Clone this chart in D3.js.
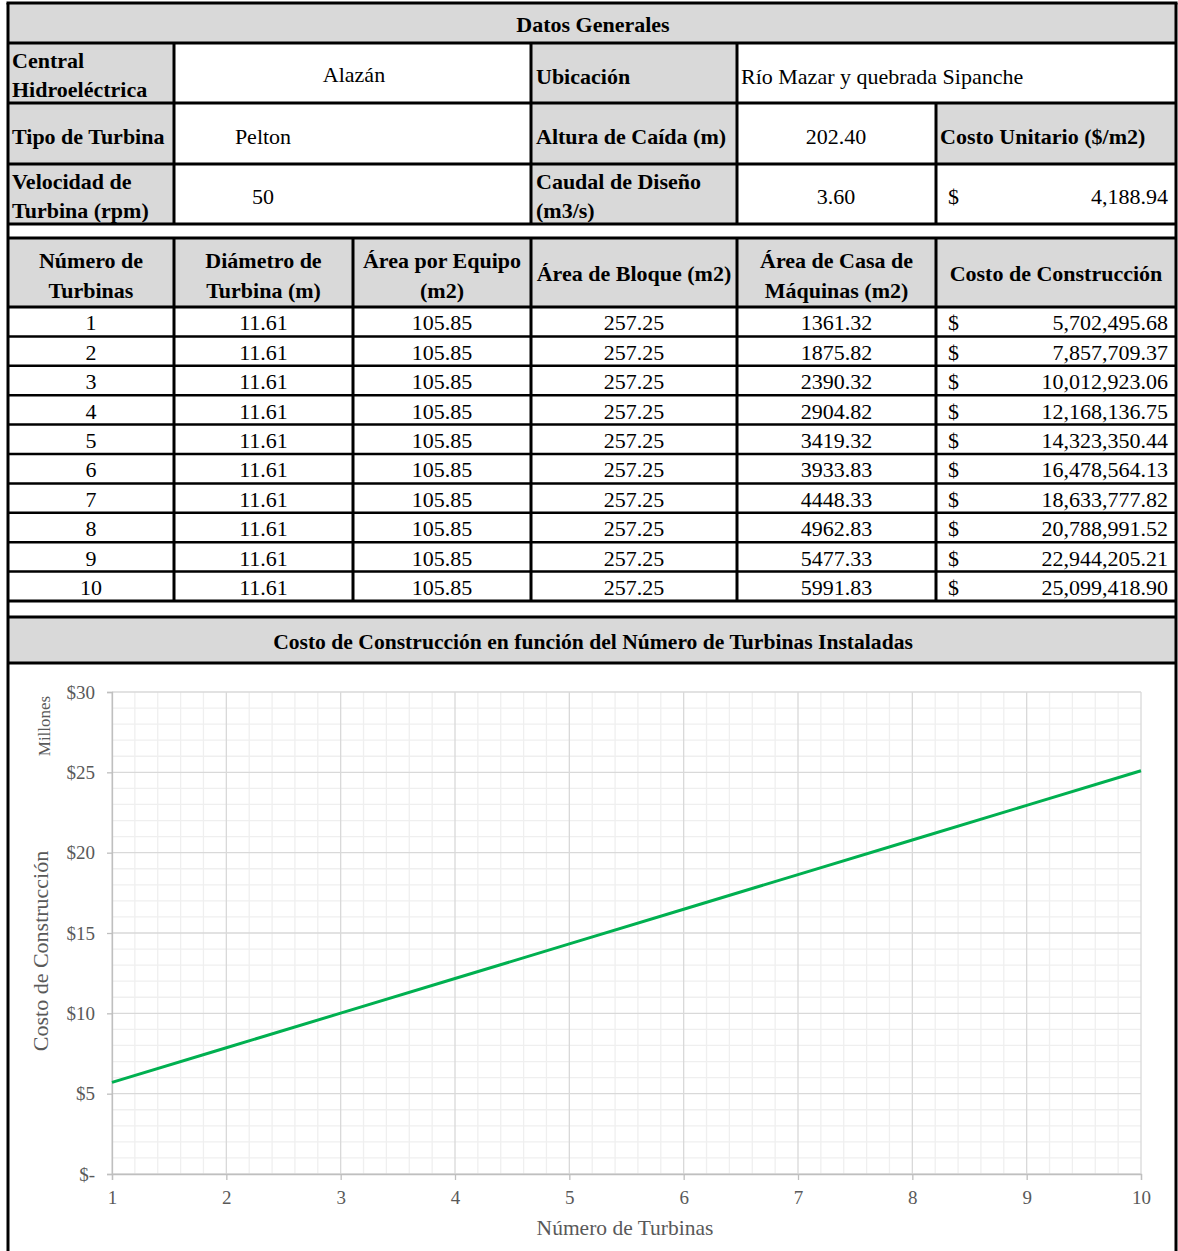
<!DOCTYPE html>
<html>
<head>
<meta charset="utf-8">
<script src="https://cdn.jsdelivr.net/npm/d3@7"></script>
<style>
  html, body { margin: 0; padding: 0; background: #fff; }
  svg { display: block; }
  text { font-family: "Liberation Serif", "Times New Roman", serif; }
</style>
</head>
<body>
<svg id="chart" width="1178" height="1251"></svg>
<script>
// ---------- DATA ----------
const numTurbinas = [1, 2, 3, 4, 5, 6, 7, 8, 9, 10];
const diametroTurbina = [11.61, 11.61, 11.61, 11.61, 11.61, 11.61, 11.61, 11.61, 11.61, 11.61];
const areaEquipo = [105.85, 105.85, 105.85, 105.85, 105.85, 105.85, 105.85, 105.85, 105.85, 105.85];
const areaBloque = [257.25, 257.25, 257.25, 257.25, 257.25, 257.25, 257.25, 257.25, 257.25, 257.25];
const areaCasa = [1361.32, 1875.82, 2390.32, 2904.82, 3419.32, 3933.83, 4448.33, 4962.83, 5477.33, 5991.83];
const costoConstruccion = [5702495.68, 7857709.37, 10012923.06, 12168136.75, 14323350.44,
                           16478564.13, 18633777.82, 20788991.52, 22944205.21, 25099418.90];
const headerLabels = [["Número de", "Turbinas"], ["Diámetro de", "Turbina (m)"], ["Área por Equipo", "(m2)"],
                      ["Área de Bloque (m2)"], ["Área de Casa de", "Máquinas (m2)"], ["Costo de Construcción"]];
const yTickValues = [0, 5e6, 10e6, 15e6, 20e6, 25e6, 30e6];
const yTickLabels = ["$-", "$5", "$10", "$15", "$20", "$25", "$30"];
const xTickValues = [1, 2, 3, 4, 5, 6, 7, 8, 9, 10];

// ---------- LAYOUT ----------
const svg = d3.select("#chart");
const L = 8, R = 1176;
const colX = [L, 174, 353, 531, 737, 936, R];
const gray = "#d9d9d9";
const FS = 22;
const SERIF = '"Liberation Serif", "Times New Roman", serif';

function txt(x, y, s, opts = {}) {
  return svg.append("text")
    .attr("x", x).attr("y", y).attr("dy", "0.35em")
    .attr("font-family", SERIF)
    .attr("text-anchor", opts.anchor || "start")
    .attr("font-size", opts.size || FS)
    .attr("font-weight", opts.bold ? "bold" : "normal")
    .attr("fill", opts.fill || "#000")
    .text(s);
}
function rect(x0, y0, x1, y1, fill) {
  svg.append("rect").attr("x", x0).attr("y", y0).attr("width", x1 - x0).attr("height", y1 - y0).attr("fill", fill);
}
function hline(x0, x1, y, w = 3) {
  svg.append("line").attr("x1", x0).attr("x2", x1).attr("y1", y).attr("y2", y)
    .attr("stroke", "#000").attr("stroke-width", w);
}
function vline(x, y0, y1, w = 3) {
  svg.append("line").attr("x1", x).attr("x2", x).attr("y1", y0).attr("y2", y1)
    .attr("stroke", "#000").attr("stroke-width", w);
}

// ---- Datos Generales ----
const rowY = [3, 43, 103, 164, 224];
rect(L, rowY[0], R, rowY[1], gray);
rect(colX[0], rowY[1], colX[1], rowY[4], gray);
rect(colX[3], rowY[1], colX[4], rowY[4], gray);
rect(colX[5], rowY[2], colX[6], rowY[3], gray);
txt(593, 24, "Datos Generales", { anchor: "middle", bold: true });

txt(12, 60, "Central", { bold: true });
txt(12, 89, "Hidroeléctrica", { bold: true });
txt(354, 74, "Alazán", { anchor: "middle" });
txt(536, 76, "Ubicación", { bold: true });
txt(741, 76, "Río Mazar y quebrada Sipanche");

txt(12, 136, "Tipo de Turbina", { bold: true });
txt(263, 136, "Pelton", { anchor: "middle" });
txt(536, 136, "Altura de Caída (m)", { bold: true });
txt(836, 136, "202.40", { anchor: "middle" });
txt(940, 136, "Costo Unitario ($/m2)", { bold: true });

txt(12, 181, "Velocidad de", { bold: true });
txt(12, 210, "Turbina (rpm)", { bold: true });
txt(263, 196, "50", { anchor: "middle" });
txt(536, 181, "Caudal de Diseño", { bold: true });
txt(536, 210, "(m3/s)", { bold: true });
txt(836, 196, "3.60", { anchor: "middle" });
txt(948, 196, "$");
txt(1168, 196, "4,188.94", { anchor: "end" });

rowY.slice(1).forEach(y => hline(L, R, y));
vline(colX[1], rowY[1], rowY[4]);
vline(colX[3], rowY[1], rowY[4]);
vline(colX[4], rowY[1], rowY[4]);
vline(colX[5], rowY[2], rowY[4]);

// ---- Table ----
const hdrTop = 238, hdrBot = 307, dataBot = 601;
const rowH = (dataBot - hdrBot) / numTurbinas.length;
rect(L, hdrTop, R, hdrBot, gray);
headerLabels.forEach((lab, i) => {
  const cx = (colX[i] + colX[i + 1]) / 2;
  if (lab.length === 2) {
    txt(cx, 260, lab[0], { anchor: "middle", bold: true });
    txt(cx, 290, lab[1], { anchor: "middle", bold: true });
  } else {
    txt(cx, 273, lab[0], { anchor: "middle", bold: true });
  }
});
const fmt2 = d3.format(",.2f");
const fmtPlain = d3.format(".2f");
numTurbinas.forEach((n, i) => {
  const cy = hdrBot + rowH * (i + 0.5) + 1;
  const vals = [String(n), fmtPlain(diametroTurbina[i]), fmtPlain(areaEquipo[i]), fmtPlain(areaBloque[i]), fmtPlain(areaCasa[i])];
  vals.forEach((v, j) => txt((colX[j] + colX[j + 1]) / 2, cy, v, { anchor: "middle" }));
  txt(948, cy, "$");
  txt(1168, cy, fmt2(costoConstruccion[i]), { anchor: "end" });
});
hline(L, R, hdrTop);
hline(L, R, hdrBot);
numTurbinas.forEach((n, i) => hline(L, R, hdrBot + rowH * (i + 1), i === numTurbinas.length - 1 ? 3 : 2.5));
colX.slice(1, 6).forEach(x => vline(x, hdrTop, dataBot));

// ---- Chart section ----
const ctTop = 617, ctBot = 663;
rect(L, ctTop, R, ctBot, gray);
txt(593, 641, "Costo de Construcción en función del Número de Turbinas Instaladas", { anchor: "middle", bold: true, size: 21.6 });
hline(L, R, ctTop);
hline(L, R, ctBot);

const x = d3.scaleLinear().domain([1, 10]).range([112, 1141]);
const y = d3.scaleLinear().domain([0, 30e6]).range([1174, 692]);
const plot = svg.append("g");

// minor grid
const minorX = d3.range(1, 10.001, 0.2).filter(v => Math.abs(v - Math.round(v)) > 1e-6);
const minorY = d3.range(0, 30e6 + 1, 1e6).filter(v => v % 5e6 !== 0);
plot.selectAll(".mx").data(minorX).join("line")
  .attr("x1", d => x(d)).attr("x2", d => x(d)).attr("y1", y(30e6)).attr("y2", y(0))
  .attr("stroke", "#efefef").attr("stroke-width", 1.3);
plot.selectAll(".my").data(minorY).join("line")
  .attr("x1", x(1)).attr("x2", x(10)).attr("y1", d => y(d)).attr("y2", d => y(d))
  .attr("stroke", "#efefef").attr("stroke-width", 1.3);
// major grid
plot.selectAll(".Mx").data(xTickValues).join("line")
  .attr("x1", d => x(d)).attr("x2", d => x(d)).attr("y1", y(30e6)).attr("y2", y(0))
  .attr("stroke", "#d9d9d9").attr("stroke-width", 1.3);
plot.selectAll(".My").data(yTickValues).join("line")
  .attr("x1", x(1)).attr("x2", x(10)).attr("y1", d => y(d)).attr("y2", d => y(d))
  .attr("stroke", "#d9d9d9").attr("stroke-width", 1.3);

// axes
const axisColor = "#bfbfbf", labColor = "#595959";
const yAxis = d3.axisLeft(y).tickValues(yTickValues).tickFormat((d, i) => yTickLabels[i]).tickSize(5).tickPadding(12);
const gy = svg.append("g").attr("transform", `translate(${x(1)},0)`).call(yAxis);
gy.select(".domain").attr("stroke", axisColor).attr("stroke-width", 1.3);
gy.selectAll(".tick line").attr("stroke", axisColor).attr("stroke-width", 1.3);
gy.selectAll(".tick text").attr("fill", labColor).attr("font-size", 19).attr("font-family", SERIF);

const xAxis = d3.axisBottom(x).tickValues(xTickValues).tickFormat(d3.format("d")).tickSize(6).tickPadding(11);
const gx = svg.append("g").attr("transform", `translate(0,${y(0)})`).call(xAxis);
gx.select(".domain").attr("stroke", axisColor).attr("stroke-width", 1.3);
gx.selectAll(".tick line").attr("stroke", axisColor).attr("stroke-width", 1.3);
gx.selectAll(".tick text").attr("fill", labColor).attr("font-size", 19).attr("font-family", SERIF);

// line
const line = d3.line().x((d, i) => x(numTurbinas[i])).y(d => y(d));
svg.append("path").datum(costoConstruccion).attr("d", line)
  .attr("fill", "none").attr("stroke", "#00b050").attr("stroke-width", 3);

// titles
svg.append("text").attr("transform", "translate(44,726) rotate(-90)").attr("font-family", SERIF)
  .attr("text-anchor", "middle").attr("dy", "0.35em").attr("font-size", 17).attr("fill", labColor).text("Millones");
svg.append("text").attr("transform", "translate(40,951) rotate(-90)").attr("font-family", SERIF)
  .attr("text-anchor", "middle").attr("dy", "0.35em").attr("font-size", 22).attr("fill", labColor).text("Costo de Construcción");
txt(625, 1227, "Número de Turbinas", { anchor: "middle", size: 21.5, fill: labColor });

// outer border
vline(L, 3, 1251);
vline(R, 3, 1251);
hline(L - 1.5, R + 1.5, 3);
</script>
</body>
</html>
